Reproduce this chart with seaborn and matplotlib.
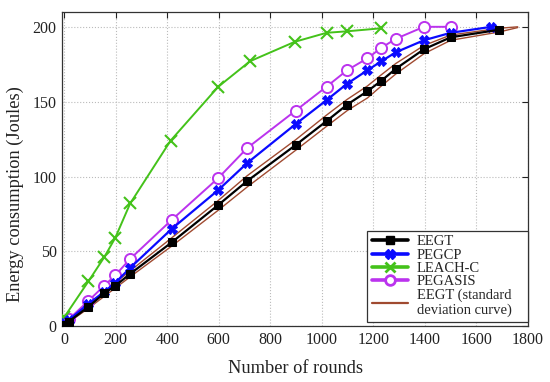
import matplotlib
matplotlib.use("Agg")
import matplotlib.pyplot as plt
import seaborn as sns
import numpy as np
from matplotlib.lines import Line2D

sns.set_theme(style="white")
plt.rcParams['font.family'] = ['Liberation Serif', 'DejaVu Serif']
plt.rcParams['mathtext.fontset'] = 'stix'

# ---- data ----
eegt_x = [0, 17, 94, 155, 198, 256, 417, 598, 710, 898, 1018, 1098, 1177, 1231, 1287, 1396, 1500, 1687]
eegt_y = [1, 3, 13, 22, 27, 35, 56, 81, 97, 121, 137, 148, 157, 164, 172, 185, 193, 198]

pegcp_x = [0, 17, 94, 155, 198, 256, 417, 598, 710, 898, 1018, 1098, 1177, 1231, 1287, 1396, 1500, 1658]
pegcp_y = [2, 4, 15, 23, 29, 39, 65, 91, 109, 135, 151, 162, 171, 177, 183, 191, 196, 200]

leach_x = [0, 94, 155, 198, 256, 413, 598, 721, 895, 1018, 1098, 1229]
leach_y = [6, 30, 46, 59, 82, 124, 160, 177, 190, 196, 197, 199]

pegasis_x = [0, 17, 94, 155, 198, 256, 417, 598, 710, 898, 1018, 1098, 1177, 1231, 1287, 1396, 1500]
pegasis_y = [2, 4.5, 17, 27, 34, 45, 71, 99, 119, 144, 160, 171, 179, 186, 192, 200, 200]

std_x = [0, 94, 256, 417, 598, 710, 898, 1018, 1098, 1177, 1231, 1287, 1396, 1500, 1687, 1760]
std_upper = [1.5, 14.5, 37, 59, 84, 100.5, 124.5, 141, 151.5, 160.5, 168, 175.5, 187.5, 194.5, 199, 200]
std_lower = [0.5, 12, 33, 53.5, 77.5, 93, 117.5, 133.5, 144, 152.5, 160.5, 168.5, 182, 191, 196.5, 199.5]

x_ticks = [0, 200, 400, 600, 800, 1000, 1200, 1400, 1600, 1800]
y_ticks = [0, 50, 100, 150, 200]

labels = ["EEGT", "PEGCP", "LEACH-C", "PEGASIS", "EEGT (standard\ndeviation curve)"]

c_black = "#000000"
c_blue = "#0a0aff"
c_green = "#44c21a"
c_magenta = "#bb33ee"
c_brown = "#a04a30"

fig = plt.figure(figsize=(5.5, 3.82), dpi=100)
ax = fig.add_axes([0.113, 0.146, 0.847, 0.823])

sns.lineplot(x=std_x, y=std_upper, ax=ax, color=c_brown, lw=1.0, zorder=2)
sns.lineplot(x=std_x, y=std_lower, ax=ax, color=c_brown, lw=1.0, zorder=2)
sns.lineplot(x=eegt_x, y=eegt_y, ax=ax, color=c_black, lw=1.6, marker='s', markersize=6,
             markeredgecolor=c_black, zorder=6)
sns.lineplot(x=pegcp_x, y=pegcp_y, ax=ax, color=c_blue, lw=1.6, marker='X', markersize=7,
             markeredgecolor=c_blue, zorder=5)
sns.lineplot(x=leach_x, y=leach_y, ax=ax, color=c_green, lw=1.4, marker='x', markersize=8,
             markeredgewidth=1.5, markeredgecolor=c_green, zorder=4)
sns.lineplot(x=pegasis_x, y=pegasis_y, ax=ax, color=c_magenta, lw=1.4, marker='o', markersize=8,
             markerfacecolor='white', markeredgecolor=c_magenta, markeredgewidth=1.4, zorder=3)

ax.set_xlim(-8, 1800)
ax.set_ylim(0, 210)
ax.set_xticks(x_ticks)
ax.set_yticks(y_ticks)
ax.tick_params(direction='in', top=True, right=True, length=4, width=0.8,
               labelsize=11.5, colors='#222222', pad=4)
ax.grid(True, linestyle=':', color='#bbbbbb', linewidth=0.8)
for s in ax.spines.values():
    s.set_color('#333333')
    s.set_linewidth(0.9)

ax.set_xlabel("Number of rounds", fontsize=13.2, color='#222222')
ax.xaxis.set_label_coords(0.5, -0.108)
ax.set_ylabel("Energy consumption (Joules)", fontsize=13.2, color='#222222')
ax.yaxis.set_label_coords(-0.081, 0.42)

handles = [
    Line2D([], [], color=c_black, lw=2.6, marker='s', markersize=6),
    Line2D([], [], color=c_blue, lw=2.6, marker='X', markersize=7),
    Line2D([], [], color=c_green, lw=2.6, marker='x', markersize=7, markeredgewidth=2),
    Line2D([], [], color=c_magenta, lw=2.6, marker='o', markersize=7, markerfacecolor='white',
           markeredgewidth=2),
    Line2D([], [], color=c_brown, lw=1.6),
]
leg = ax.legend(handles, labels, loc='lower left', fontsize=10.5, frameon=True, fancybox=False,
                edgecolor='#333333', framealpha=1, borderpad=0.3, labelspacing=0.0,
                handlelength=2.5, handletextpad=0.6, borderaxespad=0.0,
                bbox_to_anchor=(0.655, 0.015, 0.345, 0.305), mode='expand')
leg.get_frame().set_linewidth(0.9)

fig.savefig("out.png", dpi=100)
